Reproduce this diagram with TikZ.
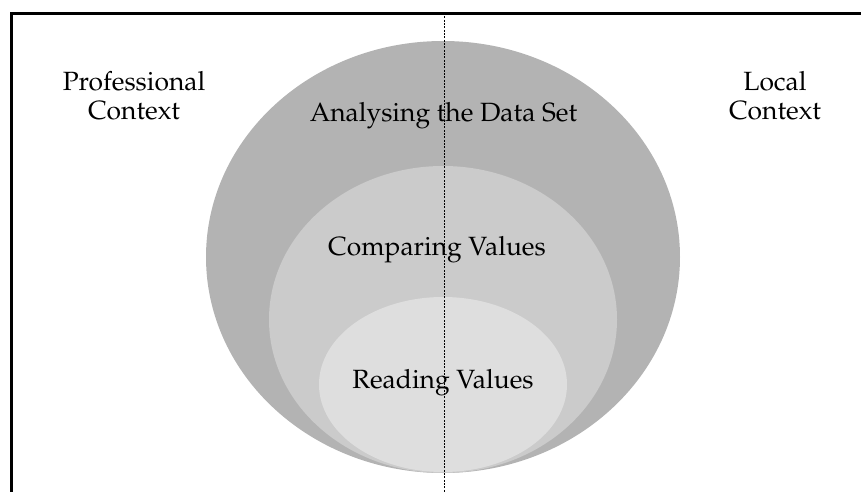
\documentclass[tikz,border=0pt]{standalone}
\usepackage[T1]{fontenc}
\renewcommand{\rmdefault}{ppl}
\usepackage{tikz}
\definecolor{outergray}{HTML}{B3B3B3}
\definecolor{middlegray}{HTML}{CBCBCB}
\definecolor{innergray}{HTML}{DEDEDE}

\begin{document}
\begin{tikzpicture}[x=0.75pt,y=-0.75pt,
    level/.style={font=\fontsize{19.8}{21.2}\selectfont,inner sep=0pt,anchor=base},
    side/.style={level,align=center},
    divider/.style={line width=0.7pt,dash pattern=on 1.5pt off 1pt}]
    \useasboundingbox (0,0) rectangle (861,492);
    \draw[line width=2.25pt] (11.5,492) -- (11.5,13.5) -- (861,13.5);
    \fill[outergray] (443,257) ellipse (237 and 216);
    \fill[middlegray] (443,319.5) ellipse (174 and 153.5);
    \fill[innergray] (443,384.5) ellipse (124 and 87.5);
    \coordinate (divtop) at (444,13);
    \coordinate (divbot) at (444,492);
    \draw[divider] (divtop) -- (divbot);
    \node[level] (analysing) at (443.5,121.7) {Analysing the Data Set};
    \node[level] (comparing) at (437,255) {Comparing Values};
    \node[level] (reading) at (443,388) {Reading Values};
    \node[side] (professional) at (134,119) {Professional\\Context};
    \node[side] (local) at (775,119) {Local\\Context};
\end{tikzpicture}
\end{document}
